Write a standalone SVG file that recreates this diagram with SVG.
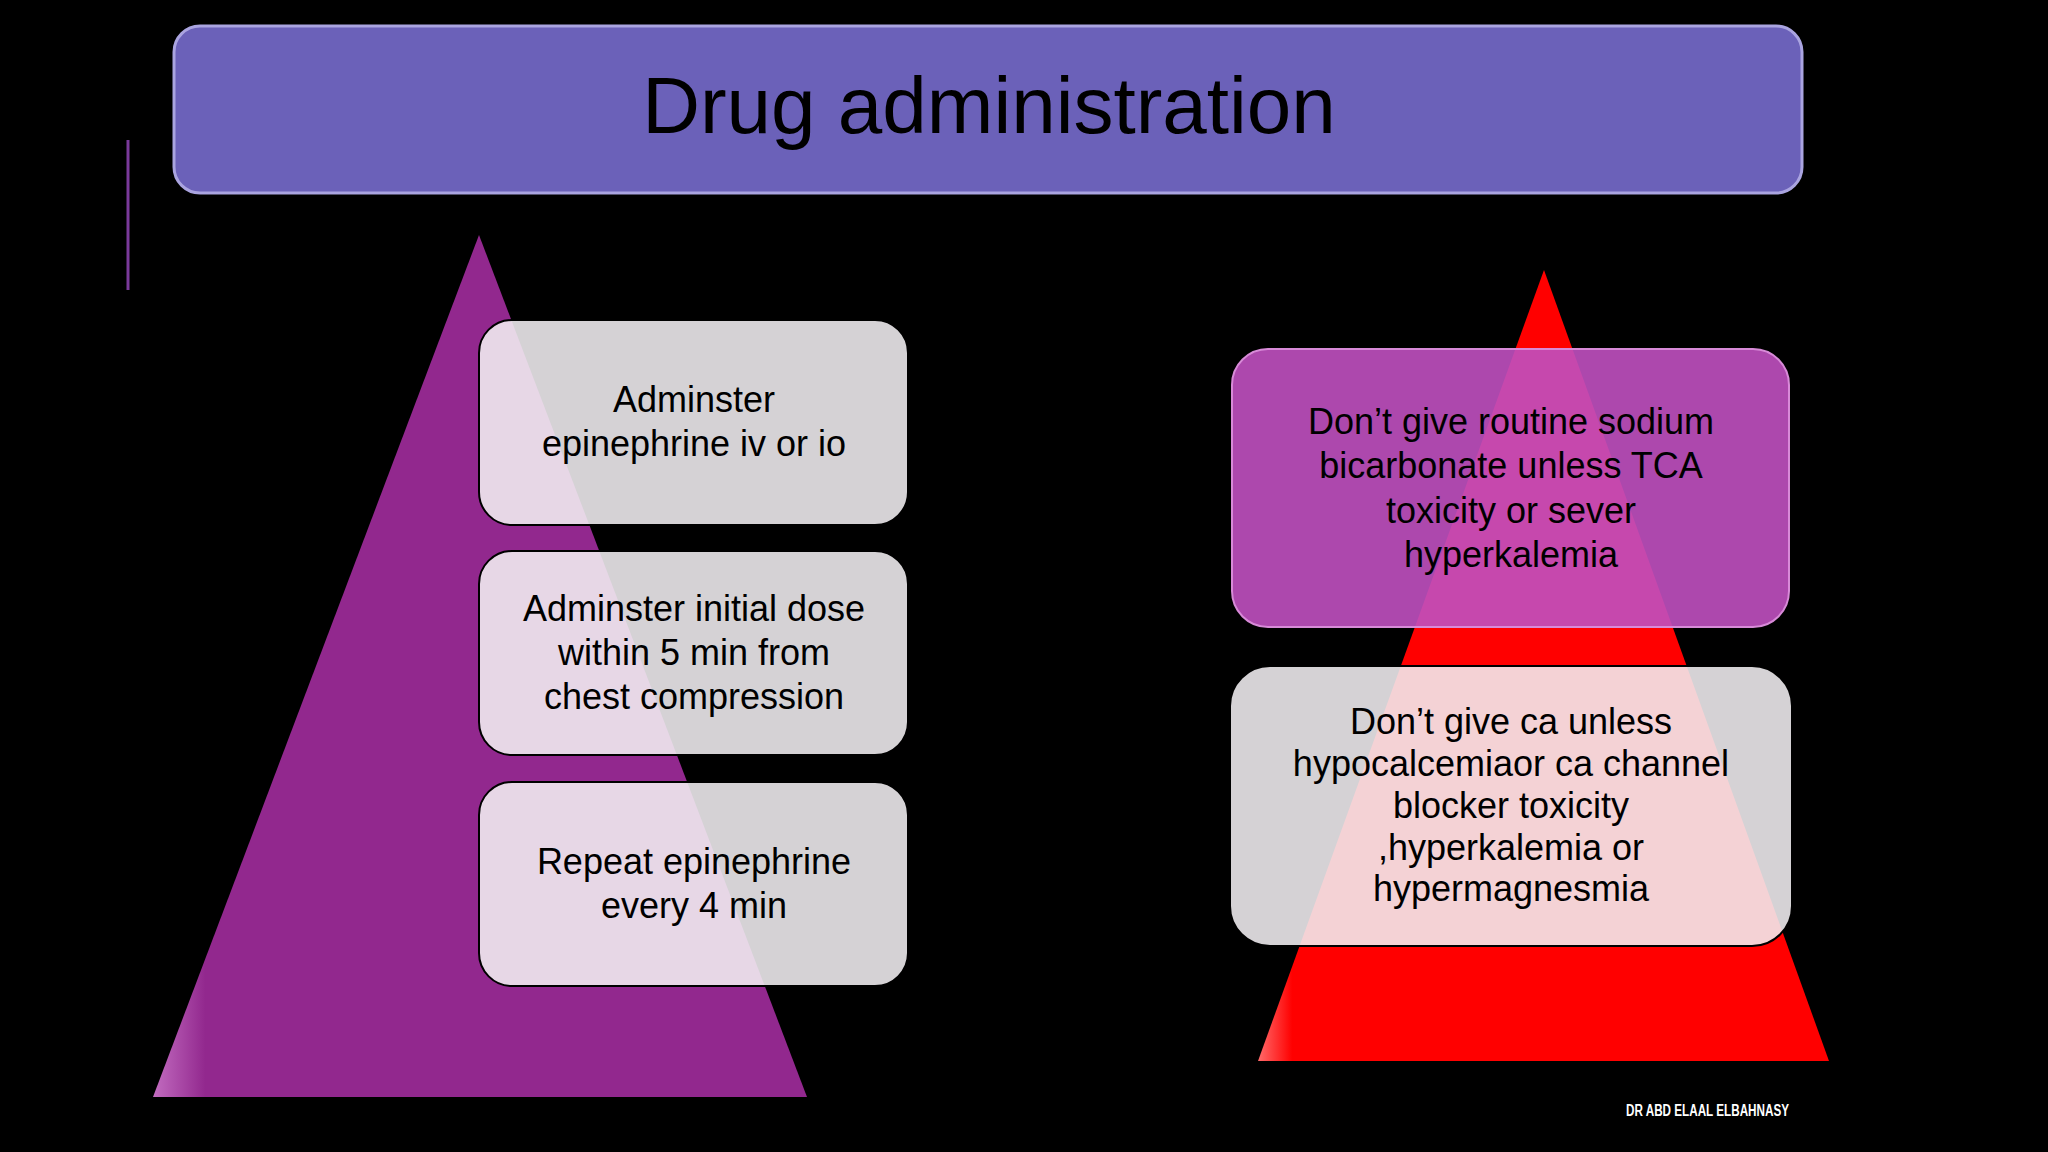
<svg xmlns="http://www.w3.org/2000/svg" width="2048" height="1152" viewBox="0 0 2048 1152">
<style>
.t{font-family:"Liberation Sans","DejaVu Sans",sans-serif;fill:#000;text-anchor:middle}
.b{font-size:36px}
.box{stroke:#000;stroke-width:2}
</style>
<defs>
<linearGradient id="pl" x1="0" y1="0" x2="1" y2="0"><stop offset="0" stop-color="#c26cc0"/><stop offset="0.08" stop-color="#92288e"/><stop offset="1" stop-color="#92288e"/></linearGradient>
<linearGradient id="rd" x1="0" y1="0" x2="1" y2="0"><stop offset="0" stop-color="#ff6a6a"/><stop offset="0.06" stop-color="#ff0000"/><stop offset="1" stop-color="#ff0000"/></linearGradient>
</defs>
<rect width="2048" height="1152" fill="#000"/>
<line x1="128" y1="140" x2="128" y2="290" stroke="#7a3a9a" stroke-width="3"/>
<g id="title">
<rect x="174" y="26" width="1628" height="167" rx="26" fill="#6b61b9" stroke="#aaa4e0" stroke-width="3"/>
<text class="t" x="989" y="133" font-size="80">Drug administration</text>
</g>
<g id="left-pyramid"><polygon points="479,235 153,1097 807,1097" fill="url(#pl)"/></g>
<g id="right-pyramid"><polygon points="1544,270 1258,1061 1829,1061" fill="url(#rd)"/></g>
<g id="n1"><rect class="box" x="479" y="320" width="429" height="205" rx="33" fill="#f2eff2" fill-opacity="0.88"/>
<text class="t b" x="694" y="412">Adminster</text><text class="t b" x="694" y="456">epinephrine iv or io</text></g>
<g id="n2"><rect class="box" x="479" y="551" width="429" height="204" rx="33" fill="#f2eff2" fill-opacity="0.88"/>
<text class="t b" x="694" y="621">Adminster initial dose</text><text class="t b" x="694" y="665">within 5 min from</text><text class="t b" x="694" y="709">chest compression</text></g>
<g id="n3"><rect class="box" x="479" y="782" width="429" height="204" rx="33" fill="#f2eff2" fill-opacity="0.88"/>
<text class="t b" x="694" y="874">Repeat epinephrine</text><text class="t b" x="694" y="918">every 4 min</text></g>
<g id="n4"><rect x="1232" y="349" width="557" height="278" rx="36" fill="#c050c0" fill-opacity="0.9" stroke="#d88ad8" stroke-width="2"/>
<text class="t b" x="1511" y="434">Don’t give routine sodium</text><text class="t b" x="1511" y="478">bicarbonate unless TCA</text><text class="t b" x="1511" y="523">toxicity or sever</text><text class="t b" x="1511" y="567">hyperkalemia</text></g>
<g id="n5"><rect class="box" x="1230" y="666" width="562" height="280" rx="40" fill="#f2eff2" fill-opacity="0.88"/>
<text class="t b" x="1511" y="734">Don’t give ca unless</text><text class="t b" x="1511" y="776">hypocalcemiaor ca channel</text><text class="t b" x="1511" y="818">blocker toxicity</text><text class="t b" x="1511" y="860">,hyperkalemia or</text><text class="t b" x="1511" y="901">hypermagnesmia</text></g>
<g id="connectors"></g>
<text x="1626" y="1116" font-family="Liberation Sans Narrow,Liberation Sans,sans-serif" font-weight="bold" font-size="16" fill="#fff" textLength="163" lengthAdjust="spacingAndGlyphs">DR ABD ELAAL ELBAHNASY</text>
</svg>
